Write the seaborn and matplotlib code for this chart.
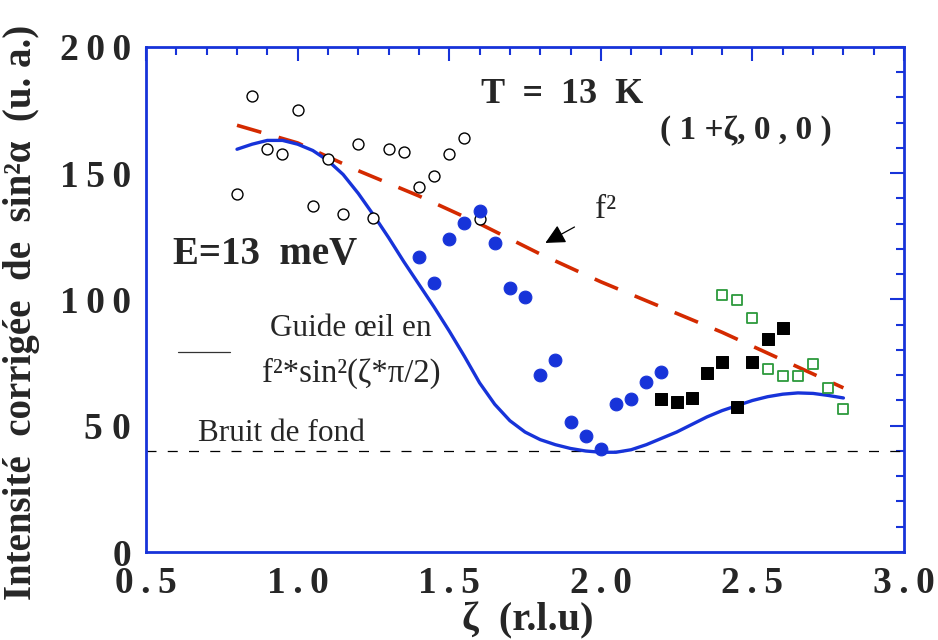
import numpy as np
import pandas as pd
import matplotlib
matplotlib.use('Agg')
import matplotlib.pyplot as plt
import seaborn as sns
from matplotlib.ticker import MultipleLocator

sns.set_style('white')
plt.rcParams['font.family'] = ['Liberation Serif', 'DejaVu Serif']

# --- données ---
zeta_open = [0.80, 0.85, 0.90, 0.95, 1.00, 1.05, 1.10, 1.15, 1.20,
             1.25, 1.30, 1.35, 1.40, 1.45, 1.50, 1.55, 1.60]
int_open = [141.7, 180.7, 159.6, 157.6, 175.2, 136.9, 155.8, 133.9, 161.7,
            132.4, 159.6, 158.5, 144.7, 148.8, 157.5, 163.8, 131.8]

zeta_blue = [1.40, 1.45, 1.50, 1.55, 1.60, 1.65, 1.70, 1.75, 1.80,
             1.85, 1.90, 1.95, 2.00, 2.05, 2.10, 2.15, 2.20]
int_blue = [116.8, 106.7, 124.0, 130.2, 135.2, 122.5, 104.7, 100.9, 70.0,
            75.9, 51.5, 45.9, 40.7, 58.6, 60.5, 67.4, 71.2]

zeta_black = [2.20, 2.25, 2.30, 2.35, 2.40, 2.45, 2.50, 2.55, 2.60]
int_black = [60.5, 59.4, 60.9, 70.8, 75.1, 57.6, 75.1, 84.5, 88.6]

zeta_green = [2.40, 2.45, 2.50, 2.55, 2.60, 2.65, 2.70, 2.75, 2.80]
int_green = [101.8, 99.7, 92.7, 72.6, 69.8, 69.8, 74.6, 64.8, 56.6]

zeta_f2 = [0.80, 1.00, 1.20, 1.40, 1.60, 1.80, 2.00, 2.20, 2.40, 2.60, 2.80]
int_f2 = [169, 162, 151, 141, 130, 118, 107, 97, 87, 76, 65]

zeta_guide = [0.80, 0.85, 0.90, 0.95, 1.00, 1.05, 1.10, 1.15, 1.20, 1.25,
              1.30, 1.35, 1.40, 1.45, 1.50, 1.55, 1.60, 1.65, 1.70, 1.75,
              1.80, 1.85, 1.90, 1.95, 2.00, 2.05, 2.10, 2.15, 2.20, 2.25,
              2.30, 2.35, 2.40, 2.45, 2.50, 2.55, 2.60, 2.65, 2.70, 2.75, 2.80]
int_guide = [159.5, 161.5, 163, 163, 161.5, 159, 155, 149.5, 142, 133.5,
             124.5, 115, 106, 97, 87.5, 77.5, 67, 58.5, 52, 47.5,
             44.5, 42.5, 41, 40, 39.5, 39.5, 40.5, 42.5, 45, 47.5,
             50.5, 53.5, 56, 58, 60, 61.5, 62.5, 63, 62.8, 62, 61]

bruit = 40
TS = '\u2009'  # espace fine
x_ticks = [0.5, 1.0, 1.5, 2.0, 2.5, 3.0]
x_ticklabels = [TS.join(list(f'{v:.1f}')) for v in x_ticks]
y_ticks = [0, 50, 100, 150, 200]
y_ticklabels = ['0', '5 0', TS.join('100'), TS.join('150'), TS.join('200')]

BLUE = '#1733d9'
RED = '#d42a00'
GREEN = '#2c9a3c'

fig = plt.figure(figsize=(9.38, 6.4), dpi=100)
ax = fig.add_axes([0.1557, 0.1375, 0.8081, 0.7891])

# ligne de bruit de fond
ax.axhline(bruit, color='black', lw=0.9, ls=(0, (8, 9)), zorder=1)

sns.lineplot(x=zeta_f2, y=int_f2, ax=ax, color=RED, lw=2.6,
             linestyle=(0, (7, 5)), zorder=2)
sns.lineplot(x=zeta_guide, y=int_guide, ax=ax, color=BLUE, lw=2.4, zorder=2)

sns.scatterplot(x=zeta_open, y=int_open, ax=ax, marker='o', s=62,
                facecolor='white', edgecolor='black', linewidth=1.0, zorder=3)
sns.scatterplot(x=zeta_blue, y=int_blue, ax=ax, marker='o', s=85,
                color=BLUE, edgecolor=BLUE, zorder=4)
sns.scatterplot(x=zeta_black, y=int_black, ax=ax, marker='s', s=78,
                color='black', edgecolor='black', zorder=4)
sns.scatterplot(x=zeta_green, y=int_green, ax=ax, marker='s', s=55,
                facecolor='white', edgecolor=GREEN, linewidth=1.3, zorder=4)

ax.set_xlim(0.5, 3.0)
ax.set_ylim(0, 200)
ax.xaxis.set_minor_locator(MultipleLocator(0.1))
ax.yaxis.set_minor_locator(MultipleLocator(10))
ax.set_xticks(x_ticks)
ax.set_xticklabels(x_ticklabels, fontsize=27, fontweight='bold')
ax.set_yticks(y_ticks)
ax.set_yticklabels(y_ticklabels, fontsize=27, fontweight='bold')
ax.tick_params(which='both', direction='in', top=True, right=True,
               color=BLUE, width=1.5)
ax.tick_params(which='major', length=10)
ax.tick_params(which='minor', length=6)
ax.tick_params(axis='x', which='major', pad=10)
ax.tick_params(axis='y', which='major', pad=11)
for sp in ax.spines.values():
    sp.set_color(BLUE)
    sp.set_linewidth(2)

ax.set_xlabel('ζ  (r.l.u)', fontsize=29, fontweight='bold')
ax.xaxis.set_label_coords(0.503, -0.100)
ax.set_ylabel('Intensité  corrigée  de  sin²α  (u. a.)', fontsize=28,
              fontweight='bold')
ax.yaxis.set_label_coords(-0.140, 0.475)

# annotations
ax.text(1.873, 181, 'T  =  13  K', fontsize=26, fontweight='bold',
        ha='center', va='center')
ax.text(2.477, 167, '( 1 +ζ, 0 , 0 )', fontsize=24, fontweight='bold',
        ha='center', va='center')
ax.text(0.589, 118, 'E=13  meV', fontsize=28, fontweight='bold',
        ha='left', va='center')
ax.text(1.177, 88.7, 'Guide œil en', fontsize=22.5, ha='center', va='center')
ax.text(1.177, 70.9, 'f²*sin²(ζ*π/2)', fontsize=23.5, ha='center',
        va='center')
ax.plot([0.606, 0.777], [79.2, 79.2], color='#333333', lw=0.9)
ax.text(0.672, 47, 'Bruit de fond', fontsize=22.5, ha='left', va='center')
ax.annotate('f²', xy=(1.817, 122.4), xytext=(2.015, 135.4), fontsize=24,
            ha='center', va='center',
            arrowprops=dict(arrowstyle='-|>', color='black', lw=0.9,
                            mutation_scale=30, shrinkA=14, shrinkB=0))

fig.savefig('out.png', dpi=100)
